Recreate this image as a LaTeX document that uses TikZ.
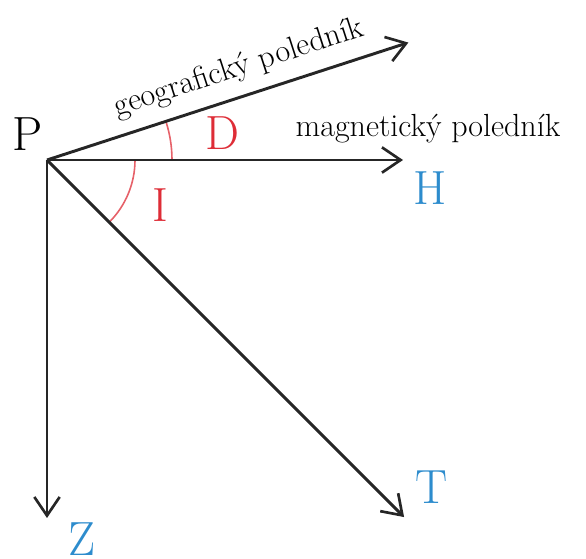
\documentclass[tikz,border=0pt]{standalone}
\usepackage{tikz}
\usetikzlibrary{arrows.meta}
\definecolor{anglered}{RGB}{222,45,55}
\definecolor{vecblue}{RGB}{45,140,205}
\definecolor{axisgray}{RGB}{38,38,38}

\begin{document}
\begin{tikzpicture}[x=0.75pt,y=0.75pt,every node/.style={inner sep=0pt},
  vec/.style={draw=axisgray,line width=2.2pt,-{Straight Barb[length=14pt,width=19pt,line width=2pt]}},
  angarc/.style={draw=anglered!75,line width=1.2pt},
  letter/.style={font=\fontsize{36}{40}\selectfont},
  meridian/.style={font=\fontsize{24}{28}\selectfont,text=black}]
\useasboundingbox (0,0) rectangle (586,559);
% origin and arrow ends
\coordinate (P) at (47,399);
\path (P) ++(18:380) coordinate (geo);
\path (P) ++(0:356) coordinate (mag);
\path (P) ++(-45:505) coordinate (tot);
\path (P) ++(-90:358) coordinate (ver);
% angles
\draw[angarc] (P) ++(0:125) arc[start angle=0,end angle=18,radius=125];
\draw[angarc] (P) ++(-45:88) arc[start angle=-45,end angle=0,radius=88];
% vectors
\draw[vec] (P) -- (geo) node[meridian,sloped,above=9pt,pos=0.555] (geotext) {geografický poledník};
\draw[vec] (P) -- (mag);
\draw[vec] (P) -- (tot);
\draw[vec] (P) -- (ver);
% labels
\node[meridian,anchor=base] (magtext) at (428,422) {magnetický poledník};
\node[letter,text=black] (Plabel) at (28,425) {P};
\node[letter,text=anglered] (Dlabel) at (222,426) {D};
\node[letter,text=anglered] (Ilabel) at (160,354) {I};
\node[letter,text=vecblue] (Hlabel) at (430,371) {H};
\node[letter,text=vecblue] (Tlabel) at (432,72) {T};
\node[letter,text=vecblue] (Zlabel) at (82,20) {Z};
\end{tikzpicture}
\end{document}
